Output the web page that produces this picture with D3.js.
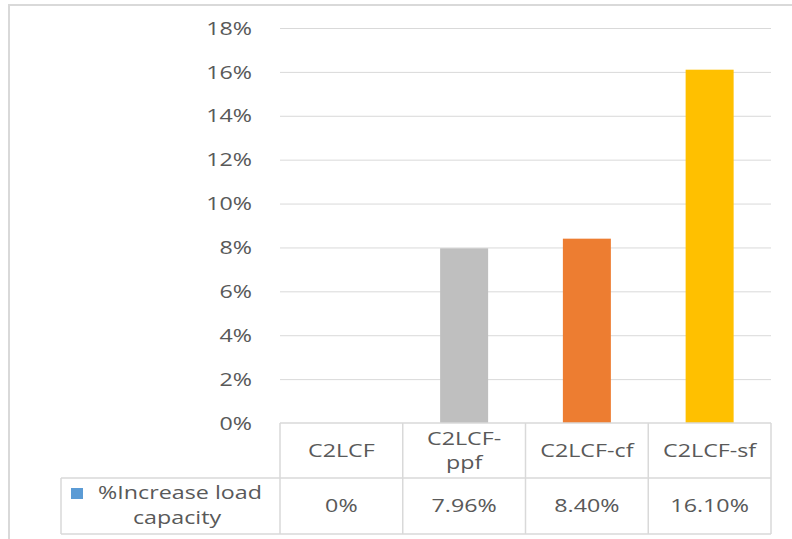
<!DOCTYPE html>
<html>
<head>
<meta charset="utf-8">
<script src="https://cdn.jsdelivr.net/npm/d3@7/dist/d3.min.js"></script>
<style>
  html, body { margin: 0; padding: 0; background: #fff; }
  svg { display: block; }
  text { font-family: "Open Sans", "Noto Sans", sans-serif; fill: #595959; }
</style>
</head>
<body>
<script>
// Chart data
const categories = ["C2LCF", "C2LCF-ppf", "C2LCF-cf", "C2LCF-sf"];
const headerLines = [["C2LCF"], ["C2LCF-", "ppf"], ["C2LCF-cf"], ["C2LCF-sf"]];
const values = [0, 7.96, 8.40, 16.10];
const valueLabels = ["0%", "7.96%", "8.40%", "16.10%"];
const barColors = ["#5b9bd5", "#bfbfbf", "#ed7d31", "#ffc000"];
const yTicks = [0, 2, 4, 6, 8, 10, 12, 14, 16, 18];
const seriesName = ["%Increase load", "capacity"];
const legendColor = "#5b9bd5";

const W = 792, H = 539;
const FS = 17.5, SX = 1.33; // font size and horizontal stretch of all labels
const svg = d3.select("body").append("svg").attr("width", W).attr("height", H);

// Label helper: wide text anchored at (x, y)
function label(g, x, y, str, anchor) {
  return g.append("text")
    .attr("transform", `translate(${x},${y}) scale(${SX},1)`)
    .attr("dy", "0.35em").attr("text-anchor", anchor || "middle")
    .attr("font-size", FS).text(str);
}

// Outer chart frame
svg.append("rect").attr("x", 9).attr("y", 5).attr("width", W + 10).attr("height", H + 10)
  .attr("fill", "#fff").attr("stroke", "#d9d9d9").attr("stroke-width", 2);

const plot = { left: 280, right: 771, top: 28, bottom: 423 };

const x = d3.scaleBand().domain(categories).range([plot.left, plot.right]).paddingInner(0).paddingOuter(0);
const y = d3.scaleLinear().domain([0, 18]).range([plot.bottom, plot.top]);

// Gridlines
svg.append("g").selectAll("line").data(yTicks.filter(t => t > 0)).join("line")
  .attr("x1", plot.left).attr("x2", plot.right)
  .attr("y1", d => y(d) + 0.5).attr("y2", d => y(d) + 0.5)
  .attr("stroke", "#d9d9d9").attr("stroke-width", 1);

// Y axis labels (tick positions from the axis generator)
const yAxis = d3.axisLeft(y).tickValues(yTicks).tickFormat(d => d + "%").tickSize(0).tickPadding(0);
const gy = svg.append("g").attr("transform", `translate(252,0)`).call(yAxis);
gy.select(".domain").remove();
gy.selectAll("text")
  .attr("x", null).attr("dy", "0.35em")
  .attr("transform", `scale(${SX},1)`)
  .attr("font-size", FS).attr("fill", "#595959")
  .attr("font-family", '"Open Sans", sans-serif');

// Bars
const barW = 48;
svg.append("g").selectAll("rect").data(values).join("rect")
  .attr("x", (d, i) => x(categories[i]) + x.bandwidth() / 2 - barW / 2)
  .attr("width", barW)
  .attr("y", d => y(d))
  .attr("height", d => y(0) - y(d))
  .attr("fill", (d, i) => barColors[i]);

// Data table
const rowTop = 423, rowMid = 478, rowBot = 534, legendLeft = 61;
const tbl = svg.append("g").attr("stroke", "#d9d9d9").attr("stroke-width", 1.5).attr("fill", "none");
tbl.append("line").attr("x1", plot.left).attr("x2", plot.right).attr("y1", rowTop).attr("y2", rowTop);
tbl.append("line").attr("x1", legendLeft).attr("x2", plot.right).attr("y1", rowMid).attr("y2", rowMid);
tbl.append("line").attr("x1", legendLeft).attr("x2", plot.right).attr("y1", rowBot).attr("y2", rowBot);
tbl.append("line").attr("x1", legendLeft).attr("x2", legendLeft).attr("y1", rowMid).attr("y2", rowBot);
const cols = categories.map(c => x(c)).concat([plot.right]);
tbl.selectAll("line.v").data(cols).join("line").attr("class", "v")
  .attr("x1", d => d).attr("x2", d => d).attr("y1", rowTop).attr("y2", rowBot);

// Category headers
headerLines.forEach((lines, i) => {
  const cx = x(categories[i]) + x.bandwidth() / 2;
  const cy = (rowTop + rowMid) / 2;
  const lh = 24;
  lines.forEach((ln, j) => label(svg, cx, cy + (j - (lines.length - 1) / 2) * lh, ln));
});

// Values row
valueLabels.forEach((lab, i) => label(svg, x(categories[i]) + x.bandwidth() / 2, (rowMid + rowBot) / 2, lab));

// Legend key + series name
svg.append("rect").attr("x", 71).attr("y", 488).attr("width", 12).attr("height", 11).attr("fill", legendColor);
label(svg, 180, 493, seriesName[0]);
label(svg, 177, 518, seriesName[1]);
</script>
</body>
</html>
